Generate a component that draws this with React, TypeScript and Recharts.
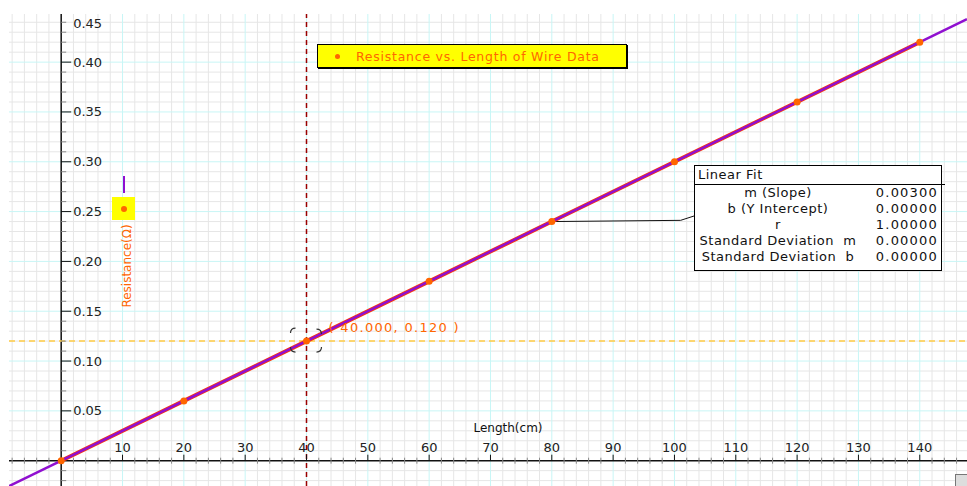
import React from 'react';
import { ComposedChart, XAxis, YAxis, Scatter, ReferenceLine, ReferenceDot } from 'recharts';

// measured data: resistance of wire vs. length
const lengths = [0, 20, 40, 60, 80, 100, 120, 140];
const resistances = [0, 0.06, 0.12, 0.18, 0.24, 0.3, 0.36, 0.42];

// linear fit results
const slope = 0.003;
const intercept = 0;
const fitRows = [
  ['m (Slope)', '0.00300'],
  ['b (Y Intercept)', '0.00000'],
  ['r', '1.00000'],
  ['Standard Deviation  m', '0.00000'],
  ['Standard Deviation  b', '0.00000'],
];

const xTickLabels = [10, 20, 30, 40, 50, 60, 70, 80, 90, 100, 110, 120, 130, 140];
const yTickLabels = ['0.05', '0.10', '0.15', '0.20', '0.25', '0.30', '0.35', '0.40', '0.45'];

const X_DOMAIN: [number, number] = [-8.51, 147.7];
const Y_DOMAIN: [number, number] = [-0.0254, 0.4483];

const FONT = '"DejaVu Sans", Verdana, sans-serif';
const ORANGE = '#ff6600';
const PURPLE = '#9010d0';

const points = lengths.map((x, i) => ({ x, y: resistances[i] }));
const fitLine = X_DOMAIN.map((x) => ({ x, y: slope * x + intercept }));

// grid values
const range = (from: number, to: number, step: number) => {
  const out: number[] = [];
  for (let i = Math.round(from / step); i * step <= to + 1e-9; i++) out.push(+(i * step).toFixed(4));
  return out;
};
const minorX = range(-8, 146, 2).filter((v) => v % 10 !== 0);
const majorX = range(10, 140, 10);
const minorY = range(-0.02, 0.44, 0.01).filter((v) => Math.round(v * 100) % 5 !== 0);
const majorY = range(0.05, 0.4, 0.05);

const Nothing = () => <g />;

export default function App() {
  return (
    <div
      style={{
        position: 'absolute',
        left: 0,
        top: 0,
        width: 967,
        height: 486,
        overflow: 'hidden',
        background: '#fff',
        fontFamily: FONT,
      }}
    >
      <ComposedChart width={967} height={486} margin={{ top: 14, right: 0, bottom: 0, left: 9 }}>
        <XAxis type="number" dataKey="x" domain={X_DOMAIN} allowDataOverflow hide />
        <YAxis type="number" dataKey="y" domain={Y_DOMAIN} allowDataOverflow hide />

        {minorX.map((v) => (
          <ReferenceLine key={'mx' + v} x={v} stroke="#e6e6e6" strokeWidth={1} />
        ))}
        {minorY.map((v) => (
          <ReferenceLine key={'my' + v} y={v} stroke="#e6e6e6" strokeWidth={1} />
        ))}
        {majorX.map((v) => (
          <ReferenceLine key={'Mx' + v} x={v} stroke="#c8f6f6" strokeWidth={1} />
        ))}
        {majorY.map((v) => (
          <ReferenceLine key={'My' + v} y={v} stroke="#c8f6f6" strokeWidth={1} />
        ))}

        {/* axes through the origin */}
        <ReferenceLine y={0} stroke="#111" strokeWidth={1.5} />
        <ReferenceLine x={0} stroke="#111" strokeWidth={1.5} />

        {minorX.map((v) => (
          <ReferenceDot
            key={'tx' + v}
            x={v}
            y={0}
            shape={(p: any) => <line x1={p.cx} x2={p.cx} y1={p.cy - 3} y2={p.cy + 3} stroke="#888" />}
          />
        ))}
        {minorY.map((v) => (
          <ReferenceDot
            key={'ty' + v}
            x={0}
            y={v}
            shape={(p: any) => <line x1={p.cx} x2={p.cx + 5} y1={p.cy} y2={p.cy} stroke="#888" />}
          />
        ))}
        {xTickLabels.map((v) => (
          <ReferenceDot
            key={'lx' + v}
            x={v}
            y={0}
            shape={(p: any) => (
              <g>
                <line x1={p.cx} x2={p.cx} y1={p.cy} y2={p.cy - 6} stroke="#111" />
                <text
                  x={p.cx}
                  y={p.cy - 13}
                  textAnchor="middle"
                  dominantBaseline="central"
                  fontSize={13}
                  fontFamily={FONT}
                  fill="#222"
                >
                  {v}
                </text>
              </g>
            )}
          />
        ))}
        {yTickLabels.map((v) => (
          <ReferenceDot
            key={'ly' + v}
            x={0}
            y={Number(v)}
            ifOverflow="visible"
            shape={(p: any) => {
              const ty = Math.max(p.cy, 23);
              return (
                <g>
                  {p.cy > 14 && <line x1={p.cx} x2={p.cx + 10} y1={p.cy} y2={p.cy} stroke="#111" />}
                  <text
                    x={p.cx + 12}
                    y={ty}
                    dominantBaseline="central"
                    fontSize={13}
                    fontFamily={FONT}
                    fill="#222"
                  >
                    {v}
                  </text>
                </g>
              );
            }}
          />
        ))}

        {/* cursor lines */}
        <ReferenceLine y={0.12} stroke="#ffcc44" strokeWidth={1.5} strokeDasharray="6 4" />
        <ReferenceLine x={40} stroke="#990000" strokeWidth={1.5} strokeDasharray="5 4" />

        {/* fit box connector */}
        <ReferenceLine
          segment={[
            { x: 80, y: 0.24 },
            { x: 101, y: 0.2412 },
          ]}
          stroke="#111"
          strokeWidth={1}
        />
        <ReferenceLine
          segment={[
            { x: 101, y: 0.2412 },
            { x: 103.2, y: 0.2456 },
          ]}
          stroke="#111"
          strokeWidth={1}
        />

        <Scatter
          data={points}
          line={{ stroke: '#ff3a00', strokeWidth: 4 }}
          shape={Nothing}
          isAnimationActive={false}
        />
        <Scatter
          data={fitLine}
          line={{ stroke: PURPLE, strokeWidth: 2.5 }}
          shape={Nothing}
          isAnimationActive={false}
        />
        <Scatter
          data={points}
          fill={ORANGE}
          shape={(p: any) => <circle cx={p.cx} cy={p.cy} r={3.5} fill={ORANGE} />}
          isAnimationActive={false}
        />

        {/* examined point */}
        <ReferenceDot
          x={40}
          y={0.12}
          shape={(p: any) => {
            const { cx, cy } = p;
            return (
              <g fill="none" stroke="#333" strokeWidth={1.2}>
                <path d={`M ${cx - 16} ${cy - 8} Q ${cx - 16} ${cy - 13} ${cx - 11} ${cy - 13}`} />
                <path d={`M ${cx + 10} ${cy - 12} Q ${cx + 15} ${cy - 12} ${cx + 15} ${cy - 7}`} />
                <path d={`M ${cx - 16} ${cy + 6} Q ${cx - 16} ${cy + 11} ${cx - 11} ${cy + 11}`} />
                <path d={`M ${cx + 10} ${cy + 11} Q ${cx + 15} ${cy + 11} ${cx + 15} ${cy + 6}`} />
                <text
                  x={cx + 22}
                  y={cy - 14}
                  dominantBaseline="central"
                  fontSize={13}
                  fontFamily={FONT}
                  fill={ORANGE}
                  stroke="none"
                  letterSpacing={1.3}
                >
                  {`( ${lengths[2].toFixed(3)}, ${resistances[2].toFixed(3)} )`}
                </text>
              </g>
            );
          }}
        />
      </ComposedChart>

      {/* legend box */}
      <div
        style={{
          position: 'absolute',
          left: 317,
          top: 44,
          width: 308,
          height: 22,
          background: '#ffff00',
          border: '1px solid #000',
          boxShadow: '1px 1px 0 #000',
          display: 'flex',
          alignItems: 'center',
          color: ORANGE,
          fontSize: 12.5,
          letterSpacing: 0.75,
          whiteSpace: 'nowrap',
        }}
      >
        <span
          style={{
            display: 'inline-block',
            width: 5,
            height: 5,
            borderRadius: 3,
            background: ORANGE,
            marginLeft: 17,
            marginRight: 16,
          }}
        />
        Resistance vs. Length of Wire Data
      </div>

      {/* y-axis label with legend key */}
      <div
        style={{ position: 'absolute', left: 123, top: 176, width: 1.5, height: 17, background: PURPLE }}
      />
      <div
        style={{
          position: 'absolute',
          left: 112,
          top: 197,
          width: 23,
          height: 23,
          background: '#ffff00',
          display: 'flex',
          alignItems: 'center',
          justifyContent: 'center',
        }}
      >
        <span style={{ width: 6, height: 6, borderRadius: 3, background: ORANGE }} />
      </div>
      <div
        style={{
          position: 'absolute',
          left: 127,
          top: 266,
          transform: 'translate(-50%, -50%) rotate(-90deg)',
          color: ORANGE,
          fontSize: 12,
          whiteSpace: 'nowrap',
        }}
      >
        Resistance(Ω)
      </div>

      {/* x-axis title */}
      <div
        style={{
          position: 'absolute',
          left: 508,
          top: 428,
          transform: 'translate(-50%, -50%)',
          color: '#111',
          fontSize: 12,
          whiteSpace: 'nowrap',
        }}
      >
        Length(cm)
      </div>

      {/* linear fit panel */}
      <div
        style={{
          position: 'absolute',
          left: 694,
          top: 165,
          width: 246,
          height: 104,
          background: '#fff',
          border: '1px solid #000',
          fontSize: 13,
          color: '#111',
        }}
      >
        <div style={{ height: 18, lineHeight: '18px', paddingLeft: 3, letterSpacing: 0.5 }}>Linear Fit</div>
        <div
          style={{ position: 'absolute', left: -1, top: 18, width: 251, height: 1, background: '#000' }}
        />
        <div style={{ paddingTop: 1 }}>
          {fitRows.map(([label, value]) => (
            <div key={label} style={{ display: 'flex', height: 16, lineHeight: '16px' }}>
              <div style={{ width: 166, textAlign: 'center', whiteSpace: 'pre', letterSpacing: 0.5 }}>
                {label}
              </div>
              <div style={{ width: 77, textAlign: 'right', letterSpacing: 1.2 }}>{value}</div>
            </div>
          ))}
        </div>
      </div>

      {/* window corner */}
      <div
        style={{
          position: 'absolute',
          left: 955,
          top: 474,
          width: 14,
          height: 14,
          background: '#ddd',
          border: '1px solid #777',
        }}
      />
    </div>
  );
}
